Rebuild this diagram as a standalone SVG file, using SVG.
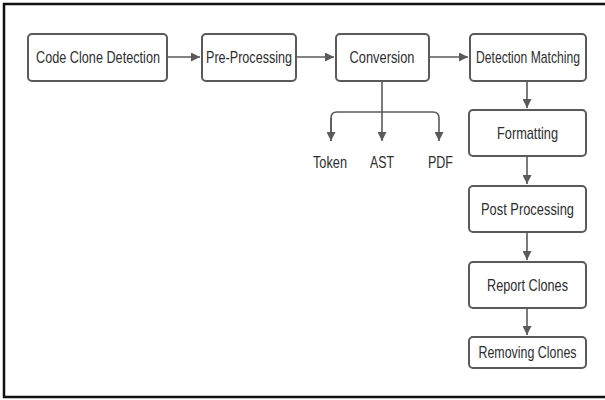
<svg xmlns="http://www.w3.org/2000/svg" width="605" height="400" viewBox="0 0 605 400">
<defs>
<style>
.box{fill:#fff;stroke:#5a5a5a;stroke-width:2}
.lbl{font-family:"Liberation Sans",Arial,sans-serif;font-size:17px;fill:#2e2e2e;text-anchor:middle}
.sub{font-family:"Liberation Sans",Arial,sans-serif;font-size:16.5px;fill:#2e2e2e;text-anchor:middle}
.con{fill:none;stroke:#5a5a5a;stroke-width:1.6}
</style>
<marker id="ah" viewBox="0 0 10 10" refX="10" refY="5" markerWidth="9" markerHeight="9" markerUnits="userSpaceOnUse" orient="auto">
<path d="M0,0 L10,5 L0,10 Z" fill="#5a5a5a"/>
</marker>
</defs>
<rect x="0" y="0" width="605" height="400" fill="#fff"/>
<rect x="4" y="4" width="640" height="393" fill="none" stroke="#111" stroke-width="2.5"/>
<g id="connectors">
<path class="con" d="M167,57 H200" marker-end="url(#ah)"/>
<path class="con" d="M296,57 H334" marker-end="url(#ah)"/>
<path class="con" d="M429,57 H468" marker-end="url(#ah)"/>
<path class="con" d="M527,81 V108" marker-end="url(#ah)"/>
<path class="con" d="M527,156 V184" marker-end="url(#ah)"/>
<path class="con" d="M527,232 V260" marker-end="url(#ah)"/>
<path class="con" d="M527,308 V335" marker-end="url(#ah)"/>
<path class="con" d="M382,81 V112"/>
<path class="con" d="M331,141 V118 Q331,112 337,112 H433 Q439,112 439,118 V141" marker-end="url(#ah)"/>
<path class="con" d="M331,118 V141" marker-end="url(#ah)"/>
<path class="con" d="M382,112 V141" marker-end="url(#ah)"/>
</g>
<g id="n-code"><rect class="box" x="28" y="34" width="139" height="47" rx="4"/><text class="lbl" x="98" y="63" textLength="124" lengthAdjust="spacingAndGlyphs">Code Clone Detection</text></g>
<g id="n-pre"><rect class="box" x="202" y="34" width="94" height="47" rx="4"/><text class="lbl" x="249" y="63" textLength="86" lengthAdjust="spacingAndGlyphs">Pre-Processing</text></g>
<g id="n-conv"><rect class="box" x="336" y="34" width="93" height="47" rx="4"/><text class="lbl" x="382" y="63" textLength="65" lengthAdjust="spacingAndGlyphs">Conversion</text></g>
<g id="n-det"><rect class="box" x="470" y="34" width="116" height="47" rx="4"/><text class="lbl" x="528" y="63" textLength="104" lengthAdjust="spacingAndGlyphs">Detection Matching</text></g>
<g id="n-fmt"><rect class="box" x="469" y="110" width="117" height="46" rx="4"/><text class="lbl" x="527.5" y="139" textLength="61" lengthAdjust="spacingAndGlyphs">Formatting</text></g>
<g id="n-post"><rect class="box" x="469" y="186" width="117" height="46" rx="4"/><text class="lbl" x="527.5" y="215" textLength="93" lengthAdjust="spacingAndGlyphs">Post Processing</text></g>
<g id="n-report"><rect class="box" x="469" y="262" width="117" height="46" rx="4"/><text class="lbl" x="527.5" y="291" textLength="81" lengthAdjust="spacingAndGlyphs">Report Clones</text></g>
<g id="n-remove"><rect class="box" x="469" y="337" width="117" height="31" rx="4"/><text class="lbl" x="527.5" y="358" textLength="98" lengthAdjust="spacingAndGlyphs">Removing Clones</text></g>
<g id="n-token"><text class="sub" x="330" y="168" textLength="34" lengthAdjust="spacingAndGlyphs">Token</text></g>
<g id="n-ast"><text class="sub" x="382" y="168" textLength="24" lengthAdjust="spacingAndGlyphs">AST</text></g>
<g id="n-pdf"><text class="sub" x="440.5" y="168" textLength="25" lengthAdjust="spacingAndGlyphs">PDF</text></g>
</svg>
